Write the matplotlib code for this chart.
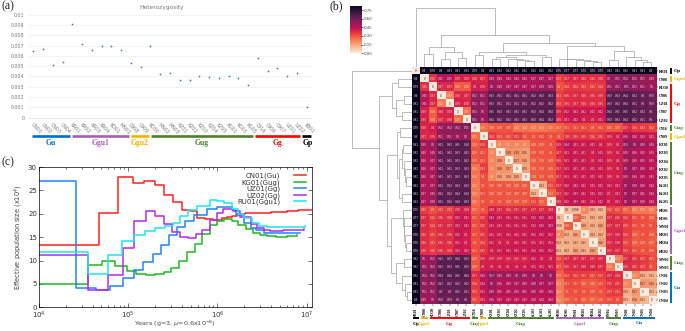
import matplotlib
matplotlib.use('Agg')
import matplotlib.pyplot as plt
import numpy as np
import seaborn as sns

W, H = 685, 331

# (a) heterozygosity
het_samples = ['CN01', 'CN02', 'CN03', 'CN04', 'KR01', 'KR02', 'KR03', 'KR04', 'KD01', 'MN01',
               'C908', 'C909', 'KD30', 'MN02', 'MN03', 'KZ01', 'KZ02', 'KZ03', 'KZ04', 'KZ05',
               'KG01', 'KG03', 'KG05', 'C916', 'C906', 'C907', 'UZ01', 'UZ02', 'KB01']
het_values = [0.00645, 0.0067, 0.0051, 0.00545, 0.00905, 0.00715, 0.00655, 0.007, 0.007, 0.0066,
              0.0053, 0.0049, 0.00695, 0.00425, 0.0043, 0.00365, 0.0037, 0.004, 0.00395, 0.0039,
              0.004, 0.0039, 0.00315, 0.00575, 0.00455, 0.00485, 0.00405, 0.0043, 0.00105]
het_yticks = [0, 0.001, 0.002, 0.003, 0.004, 0.005, 0.006, 0.007, 0.008, 0.009, 0.01]
het_groups = ['Gu', 'Ggu1', 'Ggu2', 'Gug', 'Gg', 'Gp']
het_group_colors = ['#0070c0', '#a85fb5', '#f0b400', '#4e7f2c', '#ff0000', '#000000']
het_group_spans = [(32, 70), (72, 129), (131, 149), (151, 253), (255, 300), (302, 311)]

# (c) PSMC curves, (years, population size /1e4)
cn01_x = [1e4, 4.67e4, 7.6e4, 1.12e5, 1.5e5, 2e5, 2.55e5, 3.2e5, 3.98e5, 4.9e5, 5.9e5, 7.3e5, 9e5,
          1.12e6, 1.27e6, 1.45e6, 1.65e6, 2.04e6, 3e6, 4e6, 5e6, 6e6, 8e6, 1.14e7]
cn01_y = [13.4, 20.1, 27.9, 26.6, 26.9, 26.1, 24, 22.6, 20.7, 20.6, 19.2, 18.8, 18.7,
          19, 19.3, 19.6, 19.9, 20.2, 20.2, 20.3, 20.4, 20.6, 20.8, 20.9]
kg01_x = [1e4, 2.2e4, 3.5e4, 5.1e4, 7.1e4, 9.6e4, 1.23e5, 1.57e5, 2e5, 2.5e5, 3e5, 3.75e5, 4.6e5,
          5.6e5, 6.7e5, 8.2e5, 9.8e5, 1.2e6, 1.45e6, 1.7e6, 2.1e6, 2.5e6, 3e6, 3.6e6, 4.5e6, 6e6, 7.9e6]
kg01_y = [5, 4.9, 9.1, 9.9, 8.9, 7.8, 7.1, 6.95, 7.2, 7.6, 8.5, 10, 11.8,
          13.5, 15.7, 17.5, 18.5, 18.9, 18.4, 17.6, 16.8, 15.9, 15.5, 15.2, 15.0, 15.2, 15.4]
uz01_x = [1e4, 2.6e4, 4.3e4, 6.2e4, 8.7e4, 1.16e5, 1.47e5, 1.88e5, 2.35e5, 2.87e5, 3.55e5, 4.3e5,
          5.5e5, 7.6e5, 9.8e5, 1.45e6, 1.6e6, 2e6, 2.35e6, 2.7e6, 3.3e6, 3.9e6, 6e6, 8.4e6]
uz01_y = [27, 4.2, 3.8, 4.6, 6.3, 7.9, 9.6, 11.5, 13.4, 15.4, 17.1, 18.5,
          19.7, 21, 21.5, 20.8, 19.7, 18, 17, 16.5, 15.9, 15.8, 15.8, 15.9]
uz02_x = [1e4, 3.55e4, 5.9e4, 8.8e4, 1.17e5, 1.57e5, 2e5, 2.55e5, 3.1e5, 3.8e5, 4.7e5, 5.7e5, 6.7e5,
          8.3e5, 9.8e5, 1.17e6, 1.5e6, 1.8e6, 2.35e6, 2.75e6, 3.3e6, 3.9e6, 5.5e6, 9.3e6]
uz02_y = [11.2, 3.8, 7, 12.6, 18.4, 20.5, 19.5, 17.9, 16.1, 15, 14.8, 15.6, 16.5,
          18.6, 20.2, 21, 20.5, 19.3, 17.8, 17, 16.6, 16.3, 16.5, 16.8]
ru01_x = [1e4, 3.55e4, 5.9e4, 8.6e4, 1.17e5, 1.55e5, 2e5, 2.6e5, 3.15e5, 3.8e5, 4.7e5, 5.9e5, 8.3e5,
          9.8e5, 1.2e6, 1.45e6, 1.7e6, 2e6, 2.45e6, 2.9e6, 3.6e6, 5.5e6, 9.7e6]
ru01_y = [11.9, 7.2, 11.2, 14.2, 15.5, 16.4, 17, 17.3, 18, 19.6, 20.9, 21.7, 23,
          22.7, 22.2, 21, 19.9, 19, 18, 17.4, 17.1, 17.1, 17.3]

# (b) distance matrix, upper triangle
hm_labels = ['KB01', 'C908', 'KD30', 'C906', 'UZ01', 'C907', 'UZ02', 'C916', 'C909', 'KZ01',
             'KZ03', 'KZ04', 'KZ02', 'KZ05', 'KG01', 'KG03', 'KG05', 'KR01', 'KD01', 'MN01',
             'KR03', 'KR04', 'KR02', 'MN02', 'MN03', 'CN01', 'CN02', 'CN03', 'CN04']
dist_upper = [
    [0, .8, .79, .8, .81, .81, .81, .79, .8, .81, .82, .82, .82, .82, .82, .82, .82, .75, .77, .77, .76, .76, .76, .82, .82, .82, .81, .81, .8],
    [0, .35, .45, .45, .39, .39, .38, .37, .49, .46, .46, .46, .46, .47, .47, .47, .33, .37, .37, .36, .36, .36, .5, .51, .54, .52, .51, .49],
    [0, .37, .37, .28, .28, .4, .39, .5, .48, .47, .47, .47, .47, .49, .49, .3, .34, .34, .33, .33, .34, .51, .52, .55, .52, .51, .5],
    [0, .22, .38, .37, .52, .51, .63, .61, .61, .61, .61, .62, .62, .63, .33, .36, .37, .36, .36, .36, .63, .63, .64, .62, .6, .59],
    [0, .39, .38, .52, .51, .63, .61, .61, .61, .61, .62, .62, .62, .33, .36, .37, .36, .36, .36, .63, .63, .64, .61, .6, .59],
    [0, .25, .54, .5, .65, .63, .63, .63, .63, .63, .64, .64, .39, .42, .41, .42, .41, .42, .64, .65, .65, .62, .62, .6],
    [0, .55, .5, .64, .62, .62, .63, .63, .63, .64, .63, .38, .41, .42, .4, .4, .41, .63, .63, .64, .62, .61, .6],
    [0, .25, .28, .29, .29, .24, .24, .23, .23, .25, .27, .31, .31, .31, .3, .31, .29, .29, .37, .34, .33, .32],
    [0, .34, .31, .31, .33, .3, .3, .31, .3, .3, .35, .35, .35, .34, .35, .39, .4, .46, .44, .43, .41],
    [0, .2, .2, .2, .2, .29, .29, .3, .39, .44, .41, .41, .41, .4, .39, .4, .53, .5, .49, .46],
    [0, .18, .18, .16, .29, .29, .3, .37, .41, .41, .41, .4, .41, .39, .4, .49, .46, .45, .43],
    [0, .17, .16, .28, .29, .29, .36, .41, .41, .41, .4, .41, .39, .4, .49, .46, .45, .43],
    [0, .15, .28, .29, .29, .37, .41, .41, .41, .41, .41, .39, .4, .5, .47, .46, .43],
    [0, .28, .29, .29, .37, .41, .41, .41, .41, .41, .39, .4, .49, .46, .45, .43],
    [0, .12, .32, .37, .42, .42, .42, .41, .42, .41, .41, .5, .48, .46, .44],
    [0, .27, .37, .42, .43, .42, .41, .42, .4, .41, .5, .47, .45, .44],
    [0, .38, .42, .43, .42, .41, .42, .4, .41, .5, .47, .46, .44],
    [0, .1, .098, .2, .13, .11, .32, .31, .27, .23, .23, .22],
    [0, .28, .13, .13, .13, .37, .36, .34, .31, .3, .28],
    [0, .16, .13, .16, .37, .37, .33, .31, .3, .3],
    [0, .13, .13, .37, .38, .33, .28, .3, .28],
    [0, .16, .37, .38, .32, .28, .29, .27],
    [0, .37, .37, .33, .31, .3, .29],
    [0, .23, .37, .35, .33, .31],
    [0, .36, .35, .33, .3],
    [0, .21, .13, .11],
    [0, .17, .16],
    [0, .11],
    [0],
]
# groups along the heatmap: label, colour, first index, last index
hm_groups = [('Gp', '#000000', 0, 0), ('Ggu2', '#f0b400', 1, 1), ('Gg', '#ff0000', 2, 6),
             ('Gug', '#4e7f2c', 7, 7), ('Ggu1', '#f0b400', 8, 8), ('Gug', '#4e7f2c', 9, 16),
             ('Ggu1', '#a85fb5', 17, 22), ('Gug', '#4e7f2c', 23, 24), ('Gu', '#0070c0', 25, 28)]

# dendrogram tree: (height, left, right), leaves are matrix indices
tree_g = (30, (25, 9, 10), (24, 11, (20, 12, (18, 13, 14))))
tree_d = (45, (35, 7, 8), (37, tree_g, (30, 15, 16)))
tree_h = (25, 17, (24, 18, (22, 19, (19, 20, (16, 21, 22)))))
tree_i = (48, (22, 23, 24), (30, 25, (20, 26, (15, 27, 28))))
tree_a = (60, (40, 1, 2), (46, (23, 3, 4), (28, 5, 6)))
tree_c = (73, tree_d, (62, tree_h, tree_i))
tree_root = (178, 0, (97, tree_a, tree_c))


def px_axes(left, top, right, bottom):
    return fig.add_axes([left / W, 1 - bottom / H, (right - left) / W, (bottom - top) / H])


def fig_text(x, y, s, **kw):
    fig.text(x / W, 1 - y / H, s, **kw)


def fig_line(xs, ys, **kw):
    fig.add_artist(plt.Line2D([x / W for x in xs], [1 - y / H for y in ys], **kw))


fig = plt.figure(figsize=(6.85, 3.31), dpi=100)

# ---- panel a
ax_a = px_axes(33.3 - 4.8, 14.7, 311, 117.7)
xa = np.arange(len(het_values))
ax_a.scatter(xa, het_values, s=1.6, color='#4472c4', linewidths=0, zorder=3)
ax_a.set_xlim(-0.5, 28.45)
ax_a.set_ylim(0, 0.01)
ax_a.set_yticks(het_yticks)
ax_a.set_yticklabels(['0', '0.001', '0.002', '0.003', '0.004', '0.005', '0.006', '0.007', '0.008', '0.009', '0.01'])
ax_a.set_xticks(xa)
ax_a.set_xticklabels(het_samples, rotation=-45, ha='left', rotation_mode='anchor')
ax_a.tick_params(length=0, labelsize=3.4, labelcolor='#777777', pad=3)
ax_a.grid(axis='y', color='#eeeeee', lw=0.5)
ax_a.set_axisbelow(True)
for s in ax_a.spines.values():
    s.set_visible(False)
ax_a.spines['bottom'].set_visible(True)
ax_a.spines['bottom'].set_color('#dddddd')
ax_a.spines['bottom'].set_linewidth(0.5)
fig_text(162, 8, 'Heterozygosity', fontsize=4.2, color='#777777', ha='center', va='center')
for name, col, (x0, x1) in zip(het_groups, het_group_colors, het_group_spans):
    fig_line([x0, x1], [135.7, 135.7], color=col, lw=1.9, solid_capstyle='butt')
    fig_text((x0 + x1) / 2 + (1 if name == 'Gp' else 0), 143, name, fontsize=5.5, color=col,
             family='Liberation Serif', weight='bold', ha='center', va='center')

# ---- panel c
ax_c = px_axes(39, 167, 311.7, 307.3)
series = [('CN01(Gu)', cn01_x, cn01_y, '#ff2020'), ('KG01(Gug)', kg01_x, kg01_y, '#22b422'),
          ('UZ01(Gg)', uz01_x, uz01_y, '#1e82ff'), ('UZ02(Gg)', uz02_x, uz02_y, '#b428f0'),
          ('RU01(Ggu1)', ru01_x, ru01_y, '#1ee6e6')]
for name, xs, ys, col in series:
    ax_c.step(xs, ys, where='post', color=col, lw=1.1, label=name)
ax_c.set_xscale('log')
ax_c.set_xlim(1e4, 1.14e7)
ax_c.set_ylim(0, 30)
ax_c.set_yticks([0, 5, 10, 15, 20, 25, 30])
ax_c.tick_params(which='both', direction='in', top=True, right=True, width=0.4, labelsize=5.0, pad=1.5,
                 labelcolor='#333333')
ax_c.tick_params(which='major', length=3)
ax_c.tick_params(which='minor', length=1.5)
for s in ax_c.spines.values():
    s.set_linewidth(0.5)
ax_c.set_xlabel('Years (g=3, $\\mu$=0.6x10$^{-8}$)', fontsize=4.6, labelpad=-1.5, color='#444444')
ax_c.set_ylabel('Effective population size (x10$^4$)', fontsize=4.8, labelpad=2, color='#444444')
ax_c.legend(loc='upper right', frameon=False, fontsize=5.0, markerfirst=False, labelspacing=0.0,
            handlelength=1.75, handletextpad=2.0, borderaxespad=0.4, borderpad=0.4, labelcolor='#333333')

# ---- panel b heatmap
n = len(dist_upper)
dist = np.zeros((n, n))
for i, row in enumerate(dist_upper):
    dist[i, i:] = row
    dist[i:, i] = row
cmap = sns.color_palette('rocket_r', as_cmap=True)
hm_l, hm_t, hm_r, hm_b = 411.7, 67, 655.7, 304.2
ax_h = px_axes(hm_l, hm_t, hm_r, hm_b)
ax_h.imshow(dist, cmap=cmap, vmin=0, vmax=0.82, aspect='auto', interpolation='nearest')
for i in range(n):
    for j in range(n):
        v = dist[i, j]
        ax_h.text(j, i, f'{v:g}', fontsize=2.0, ha='center', va='center',
                  color='#3a2020' if v < 0.2 else '#f0d8d5')
ax_h.set_xticks(np.arange(n))
ax_h.set_yticks(np.arange(n))
ax_h.set_xticklabels(hm_labels, rotation=90, fontsize=2.9, family='Liberation Serif', weight='bold')
ax_h.set_yticklabels(hm_labels, fontsize=2.9, family='Liberation Serif', weight='bold')
ax_h.yaxis.tick_right()
ax_h.tick_params(length=1.2, width=0.3, pad=1.0)
for s in ax_h.spines.values():
    s.set_visible(False)

cell_w = (hm_r - hm_l) / n
cell_h = (hm_b - hm_t) / n
for name, col, i0, i1 in hm_groups:
    # right side
    y0, y1 = hm_t + i0 * cell_h + 1, hm_t + (i1 + 1) * cell_h - 1
    fig_line([671, 671], [y0, y1], color=col, lw=1.4, solid_capstyle='butt')
    fig_text(673.5, (y0 + y1) / 2, name, fontsize=3.9, color=col, family='Liberation Serif',
             weight='bold', ha='left', va='center')
    # bottom
    x0, x1 = hm_l + i0 * cell_w + 1, hm_l + (i1 + 1) * cell_w - 1
    fig_line([x0, x1], [318, 318], color=col, lw=1.4, solid_capstyle='butt')
    fig_text((x0 + x1) / 2, 323.5, name, fontsize=3.9, color=col, family='Liberation Serif',
             weight='bold', ha='center', va='center')


# dendrograms, same tree on both sides
def draw_tree(node, ax, top):
    if not isinstance(node, tuple):
        return node, 0
    h, left, right = node
    p0, h0 = draw_tree(left, ax, top)
    p1, h1 = draw_tree(right, ax, top)
    if top:
        ax.plot([p0, p0, p1, p1], [h0, h, h, h1], color='#aaaaaa', lw=0.55, solid_joinstyle='miter')
    else:
        ax.plot([h0, h, h, h1], [p0, p0, p1, p1], color='#aaaaaa', lw=0.55, solid_joinstyle='miter')
    return (p0 + p1) / 2, h


ax_top = px_axes(hm_l, 6, hm_r, hm_t)
draw_tree(tree_root, ax_top, True)
ax_top.set_xlim(-0.5, n - 0.5)
ax_top.set_ylim(0, 183)
ax_top.axis('off')

ax_left = px_axes(350.7, hm_t, hm_l, hm_b)
draw_tree(tree_root, ax_left, False)
ax_left.set_ylim(n - 0.5, -0.5)
ax_left.set_xlim(183, 0)
ax_left.axis('off')

# colorbar
ax_cb = px_axes(349.5, 6, 361, 53.3)
cb_vals = np.linspace(0.82, 0, 256).reshape(-1, 1)
ax_cb.imshow(cb_vals, cmap=cmap, vmin=0, vmax=0.82, aspect='auto', extent=[0, 1, 0, 0.82])
ax_cb.set_xticks([])
ax_cb.yaxis.tick_right()
ax_cb.set_yticks([0, 0.15, 0.30, 0.45, 0.60, 0.75])
ax_cb.set_yticklabels(['0.00', '0.15', '0.30', '0.45', '0.60', '0.75'])
ax_cb.tick_params(length=1.5, width=0.4, labelsize=2.8, pad=0.8, labelcolor='#444444')
for s in ax_cb.spines.values():
    s.set_visible(False)

# panel letters
for s, x, y in [('(a)', 1, 6), ('(b)', 330, 6), ('(c)', 1, 162)]:
    fig_text(x, y, s, fontsize=8.5, family='Liberation Serif', ha='left', va='center', color='#222222')

fig.savefig('out.png', dpi=100)
